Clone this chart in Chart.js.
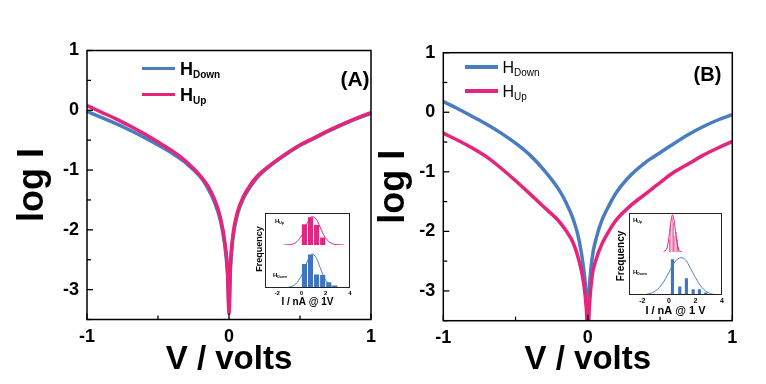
<!DOCTYPE html>
<html><head><meta charset="utf-8">
<script src="https://cdn.jsdelivr.net/npm/chart.js@4"></script>
<style>
html,body{margin:0;padding:0;background:#fff;}
#wrap{position:relative;width:766px;height:384px;overflow:hidden;background:#fff;font-family:"Liberation Sans",Arial,sans-serif;}
canvas{position:absolute;}
.t{position:absolute;white-space:nowrap;color:#000;}
.ln{position:absolute;height:3.5px;}
.box{position:absolute;border:1px solid #222;box-sizing:border-box;}
</style></head><body>
<div id="wrap">
  <canvas id="cA" width="383" height="384" style="left:0;top:0;width:383px;height:384px"></canvas>
  <canvas id="cB" width="406" height="384" style="left:360px;top:0;width:406px;height:384px"></canvas>

  <div class="ln" style="left:142px;top:66.5px;width:33px;background:#4A7CC0"></div>
  <div class="t" style="left:180px;top:60px;font:bold 18px/18px 'Liberation Sans',Arial">H<span style="font-size:10px;position:relative;top:3px">Down</span></div>
  <div class="ln" style="left:142px;top:92.5px;width:33px;background:#E5247A"></div>
  <div class="t" style="left:180px;top:86px;font:bold 18px/18px 'Liberation Sans',Arial">H<span style="font-size:10px;position:relative;top:3px">Up</span></div>
  <div class="t" style="left:355px;top:77.5px;transform:translate(-50%,-50%);font:bold 21px/21px 'Liberation Sans',Arial">(A)</div>

  <div class="ln" style="left:465px;top:65px;width:33px;background:#4A7CC0"></div>
  <div class="t" style="left:502.5px;top:59.6px;font:16px/16px 'Liberation Sans',Arial">H<span style="font-size:10px;position:relative;top:3px">Down</span></div>
  <div class="ln" style="left:465px;top:89.3px;width:33px;background:#E5247A"></div>
  <div class="t" style="left:502.5px;top:84px;font:16px/16px 'Liberation Sans',Arial">H<span style="font-size:10px;position:relative;top:3px">Up</span></div>
  <div class="t" style="left:707.5px;top:74px;transform:translate(-50%,-50%);font:bold 20px/20px 'Liberation Sans',Arial">(B)</div>

  <div class="t" style="left:258.5px;top:249px;transform:translate(-50%,-50%) rotate(-90deg);font:bold 9px/9px 'Liberation Sans',Arial">Frequency</div>
  <div class="t" style="left:621px;top:256px;transform:translate(-50%,-50%) rotate(-90deg);font:bold 10px/10px 'Liberation Sans',Arial">Frequency</div>
  <div class="t" style="left:275px;top:218px;font:bold 6px/6px 'Liberation Sans',Arial">H<span style="font-size:3.5px;position:relative;top:1px">Up</span></div>
  <div class="t" style="left:273px;top:272px;font:bold 6px/6px 'Liberation Sans',Arial">H<span style="font-size:3.5px;position:relative;top:1px">Down</span></div>
  <div class="t" style="left:633px;top:217px;font:bold 6px/6px 'Liberation Sans',Arial">H<span style="font-size:3.5px;position:relative;top:1px">Up</span></div>
  <div class="t" style="left:633px;top:269px;font:bold 6px/6px 'Liberation Sans',Arial">H<span style="font-size:3.5px;position:relative;top:1px">Down</span></div>
</div>
<script>
// ---------- data ----------
const voltage = [-1,-0.9,-0.8,-0.7,-0.6,-0.5,-0.4,-0.3,-0.2,-0.15,-0.1,-0.06,-0.03,-0.01,0,0.01,0.03,0.06,0.1,0.15,0.2,0.3,0.4,0.5,0.6,0.7,0.8,0.9,1];
const aDown = [-0.02,-0.12,-0.22,-0.33,-0.45,-0.58,-0.72,-0.89,-1.12,-1.3,-1.55,-1.85,-2.25,-2.75,-3.3,-2.65,-2.1,-1.74,-1.48,-1.28,-1.12,-0.91,-0.74,-0.59,-0.47,-0.35,-0.24,-0.14,-0.05];
const aUp   = [0.08,-0.03,-0.14,-0.26,-0.39,-0.53,-0.68,-0.86,-1.1,-1.26,-1.5,-1.8,-2.2,-2.7,-3.4,-2.6,-2.05,-1.7,-1.45,-1.25,-1.1,-0.9,-0.73,-0.58,-0.46,-0.34,-0.23,-0.13,-0.04];
const bDown = [0.18,0.06,-0.07,-0.2,-0.35,-0.52,-0.72,-0.98,-1.3,-1.52,-1.8,-2.15,-2.6,-3.1,-3.7,-3.0,-2.45,-2.1,-1.8,-1.55,-1.34,-1.05,-0.84,-0.68,-0.52,-0.37,-0.24,-0.13,-0.04];
const bUp   = [-0.35,-0.47,-0.6,-0.75,-0.94,-1.15,-1.37,-1.6,-1.83,-1.99,-2.2,-2.5,-2.85,-3.3,-3.8,-3.3,-2.75,-2.45,-2.2,-1.98,-1.8,-1.56,-1.37,-1.18,-1.0,-0.86,-0.72,-0.6,-0.49];
const xMajor = [-1,0,1];
const yMajor = [1,0,-1,-2,-3];

// insets (histograms of I at 1 V, with fitted curves)
const insetTicks = [-2,0,2,4];
const histA_upX = [0.25,0.75,1.25,1.75];
const histA_upY = [0.70,0.93,0.67,0.26];
const fitA_upX = [-1.5,-1,-0.5,0,0.25,0.5,0.75,0.9,1,1.25,1.5,1.75,2,2.5,3,3.5];
const fitA_upY = [0,0.01,0.07,0.3,0.5,0.74,0.9,0.93,0.92,0.83,0.62,0.4,0.22,0.05,0.01,0];
const histA_downX = [0.25,0.75,1.25,1.75,2.25,2.75];
const histA_downY = [0.6,0.83,0.34,0.33,0.15,0.07];
const fitA_downX = [-1.5,-1,-0.5,0,0.25,0.5,0.75,0.9,1,1.25,1.5,1.75,2,2.5,3,3.5];
const fitA_downY = [0,0.02,0.09,0.3,0.47,0.66,0.8,0.83,0.82,0.72,0.53,0.34,0.19,0.05,0.01,0];
const histB_upX = [0.05,0.15,0.25,0.35,0.45,0.55,0.65,0.75];
const histB_upY = [0.35,0.75,0.95,0.8,0.45,0.55,0.35,0.15];
const fitB_upX = [-0.4,-0.2,-0.1,0,0.1,0.2,0.28,0.4,0.5,0.6,0.7,0.8,1.0];
const fitB_upY = [0.01,0.06,0.16,0.38,0.67,0.92,1.0,0.84,0.54,0.28,0.11,0.03,0];
const histB_downX = [0.27,0.82,1.32,1.83,2.3,2.78];
const histB_downY = [0.89,0.23,0.43,0.16,0.16,0.08];
const fitB_downX = [-2,-1.5,-1,-0.5,0,0.5,0.9,1.25,1.5,2,2.5,3,3.5,4];
const fitB_downY = [0,0.03,0.1,0.27,0.55,0.83,0.91,0.86,0.73,0.43,0.18,0.05,0.01,0];

// ---------- styling ----------
const BLUE = '#4A7CC0', PINK = '#E5247A';
const BAR_BLUE = '#3F74C2', BAR_PINK = '#E3267F';
Chart.defaults.font.family = '"Liberation Sans", Arial, sans-serif';
Chart.defaults.color = '#000';

const pts = (xs, ys) => xs.map((x,i)=>({x:x, y:ys[i]}));

const frame = {
  id:'frame',
  afterDraw(chart){
    const {ctx, chartArea:a, scales:{x,y}} = chart;
    ctx.save();
    ctx.strokeStyle = '#000'; ctx.lineWidth = 1.5;
    ctx.strokeRect(a.left, a.top, a.right-a.left, a.bottom-a.top);
    ctx.lineWidth = 1.3;
    x.ticks.forEach(t=>{
      const p = x.getPixelForValue(t.value);
      const L = xMajor.includes(t.value) ? 6 : 4;
      ctx.beginPath(); ctx.moveTo(p, a.bottom); ctx.lineTo(p, a.bottom-L); ctx.stroke();
    });
    y.ticks.forEach(t=>{
      const p = y.getPixelForValue(t.value);
      const L = yMajor.includes(t.value) ? 6 : 4;
      ctx.beginPath(); ctx.moveTo(a.left, p); ctx.lineTo(a.left+L, p); ctx.stroke();
    });
    ctx.restore();
  }
};

const noGrid = {display:false, drawTicks:false, tickLength:0};

function mainChart(id, down, up, g){
  return new Chart(document.getElementById(id), {
    type:'line',
    data:{datasets:[
      {label:'H_Up', data:pts(voltage, up), borderColor:PINK, borderWidth:3.5, pointRadius:0, cubicInterpolationMode:'monotone', order:0},
      {label:'H_Down', data:pts(voltage, down), borderColor:BLUE, borderWidth:3.5, pointRadius:0, cubicInterpolationMode:'monotone', order:1}
    ]},
    options:{
      responsive:false, animation:false, devicePixelRatio:1,
      layout:{padding:{left:0, top:g.top, right:g.right, bottom:0}},
      plugins:{legend:{display:false}, tooltip:{enabled:false}},
      scales:{
        x:{type:'linear', min:-1, max:1,
           ticks:{stepSize:0.5, autoSkip:false, maxRotation:0, padding:7, color:'#000',
                  font:{size:18, weight:'bold'},
                  callback:v=> xMajor.includes(v) ? String(v) : ''},
           grid:noGrid, border:{display:false},
           title:{display:true, text:'V / volts', color:'#000', font:{size:33, weight:'bold'}, padding:{top:0, bottom:4}},
           afterFit(s){ s.height = g.xh; }},
        y:{type:'linear', min:-3.5, max:1,
           ticks:{stepSize:0.5, autoSkip:false, padding:8, color:'#000',
                  font:{size:18, weight:'bold'},
                  callback:v=> yMajor.includes(v) ? String(v) : ''},
           grid:noGrid, border:{display:false},
           title:{display:true, text:'log I', color:'#000', font:{size:36, weight:'bold'}, padding:{top:g.tp, bottom:0}},
           afterFit(s){ s.width = g.yw; }}
      }
    },
    plugins:[frame]
  });
}

mainChart('cA', aDown, aUp, {top:50.5, right:7.3, xh:64.5, yw:87, tp:11});
mainChart('cB', bDown, bUp, {top:52.7, right:33.7, xh:63.3, yw:83.3, tp:12});

// ---------- insets ----------
const wrap = document.getElementById('wrap');
function mkCanvas(l, t, w, h){
  const c = document.createElement('canvas');
  c.width = Math.round(w); c.height = Math.round(h);
  c.style.left = l+'px'; c.style.top = t+'px';
  c.style.width = Math.round(w)+'px'; c.style.height = Math.round(h)+'px';
  wrap.appendChild(c);
  return c;
}
function mkBox(l,t,w,h){
  const d = document.createElement('div');
  d.className = 'box';
  d.style.left = l+'px'; d.style.top = t+'px'; d.style.width = w+'px'; d.style.height = h+'px';
  wrap.appendChild(d);
}
function histChart(canvas, hx, hy, fx, fy, barCol, lineCol, opt){
  const P = opt.pad || 0;
  return new Chart(canvas, {
    data:{datasets:[
      {type:'line', data:pts(fx, fy), borderColor:lineCol, borderWidth:1, pointRadius:0, tension:0.4, order:0},
      {type:'bar', data:pts(hx, hy), backgroundColor:barCol, borderColor:'rgba(255,255,255,0.35)', borderWidth:0.8,
       barPercentage:opt.bp, categoryPercentage:opt.cp, order:1}
    ]},
    options:{
      responsive:false, animation:false, devicePixelRatio:1,
      layout:{padding:{left:P, right:P, top:0, bottom:0}},
      plugins:{legend:{display:false}, tooltip:{enabled:false}},
      scales:{
        x:{type:'linear', min:-3, max:4, display:!!opt.axis, offset:false,
           afterBuildTicks(s){ s.ticks = insetTicks.map(v=>({value:v})); },
           ticks:{autoSkip:false, maxRotation:0, padding:opt.tpad||1, color:'#000', font:{size:opt.tfs||6, weight:'bold'}},
           grid:noGrid, border:{display:false},
           title:{display:!!opt.axis, text:opt.title||'', color:'#000', font:{size:opt.ttfs||10, weight:'bold'}, padding:{top:0, bottom:opt.tb||1}},
           afterFit(s){ if (opt.axis) s.height = opt.axisH; }},
        y:{min:0, max:1.05, display:false}
      }
    }
  });
}

// Inset A
(function(){
  const L=265, T=212.7, W=85, H=75.3, UH=32.3, DH=H-UH, P=8, AX=21;
  histChart(mkCanvas(L, T, W, UH), histA_upX, histA_upY, fitA_upX, fitA_upY, BAR_PINK, PINK, {bp:1, cp:1});
  histChart(mkCanvas(L-P, T+UH, W+2*P, DH+AX), histA_downX, histA_downY, fitA_downX, fitA_downY, BAR_BLUE, BLUE,
    {bp:1, cp:1, pad:P, axis:true, axisH:AX, title:'I / nA @ 1V', tfs:6, ttfs:10, tpad:2, tb:1});
  mkBox(L, T, W, H);
})();
// Inset B
(function(){
  const L=629, T=213, W=92.7, H=82, UH=39, DH=H-UH, P=8, AX=24;
  histChart(mkCanvas(L, T, W, UH), histB_upX, histB_upY, fitB_upX, fitB_upY, BAR_PINK, PINK, {bp:1, cp:1});
  histChart(mkCanvas(L-P, T+UH, W+2*P, DH+AX), histB_downX, histB_downY, fitB_downX, fitB_downY, BAR_BLUE, BLUE,
    {bp:0.8, cp:0.95, pad:P, axis:true, axisH:AX, title:'I / nA @ 1 V', tfs:7, ttfs:11, tpad:2, tb:1.4});
  mkBox(L, T, W, H);
})();
</script>
</body></html>
